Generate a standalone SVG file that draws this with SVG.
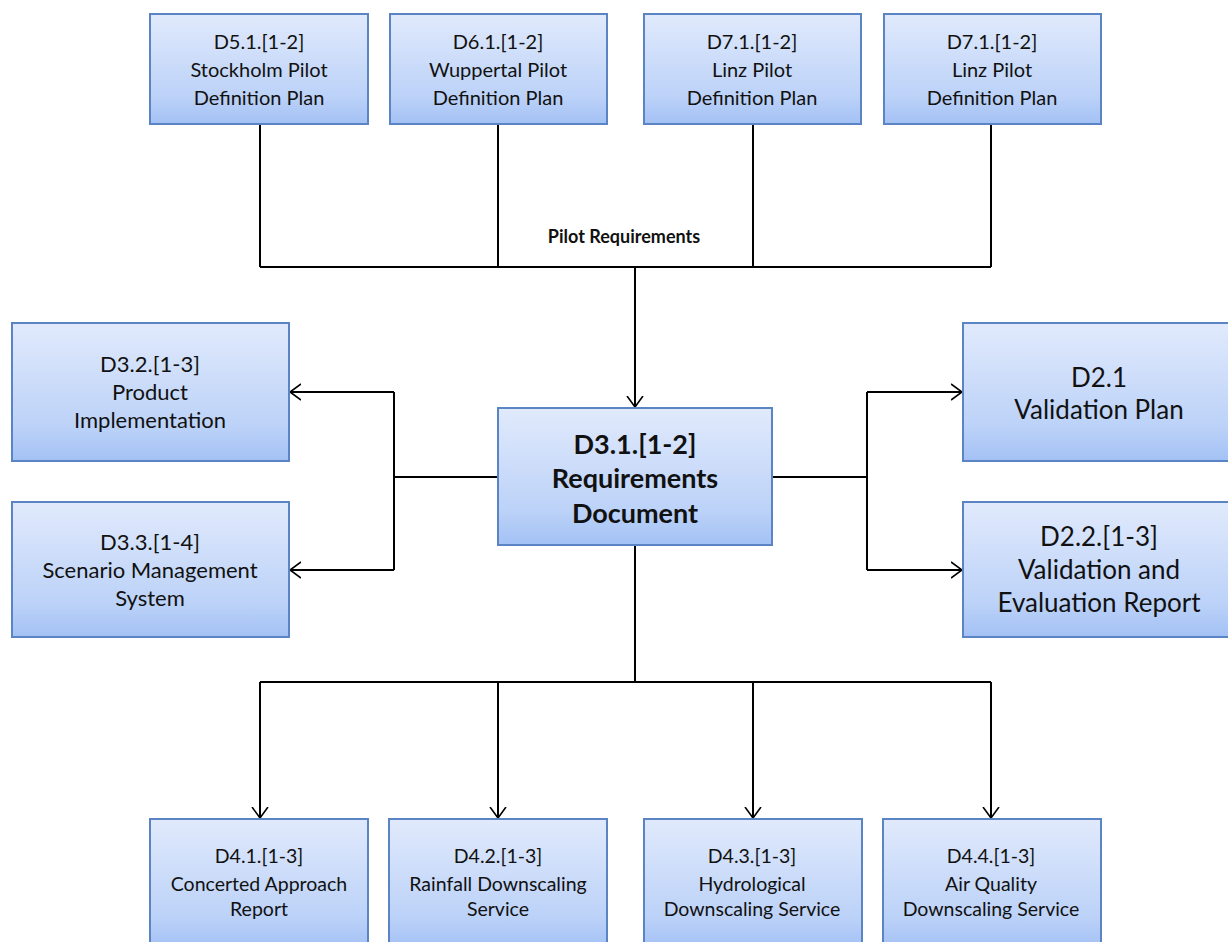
<svg xmlns="http://www.w3.org/2000/svg" width="1228" height="942" viewBox="0 0 1228 942">
<defs>
<linearGradient id="g" x1="0" y1="0" x2="0" y2="1">
<stop offset="0" stop-color="#e1eafc"/>
<stop offset="0.75" stop-color="#bcd2f8"/>
<stop offset="1" stop-color="#a3c1f5"/>
</linearGradient>
<marker id="arr" viewBox="0 0 12 18" refX="11" refY="9" markerWidth="12" markerHeight="18" markerUnits="userSpaceOnUse" orient="auto">
<path d="M0,1 L11,9 L0,17" fill="none" stroke="#000" stroke-width="1.6"/>
</marker>
<style>
.box{fill:url(#g);stroke:#5b84c4;stroke-width:2}
.t{font-family:Lato,"Open Sans","Liberation Sans",sans-serif;fill:#111;text-anchor:middle}
.s{font-size:20px}
.u{font-size:19.5px}
.m{font-size:22px}
.l{font-size:26px}
.b{font-size:27px;font-weight:bold}
.c{fill:none;stroke:#000;stroke-width:2}
</style>
</defs>
<g id="connectors">
<path class="c" d="M260,124 V267 M498,124 V267 M753,124 V267 M991,124 V267 M260,267 H991"/>
<path class="c" d="M635,267 V407" marker-end="url(#arr)"/>
<path class="c" d="M498,477 H394 M394,392 V570"/>
<path class="c" d="M394,392 H290" marker-end="url(#arr)"/>
<path class="c" d="M394,570 H290" marker-end="url(#arr)"/>
<path class="c" d="M772,477 H867 M867,392 V570"/>
<path class="c" d="M867,392 H962" marker-end="url(#arr)"/>
<path class="c" d="M867,570 H962" marker-end="url(#arr)"/>
<path class="c" d="M635,545 V682 M260,682 H991"/>
<path class="c" d="M260,682 V818" marker-end="url(#arr)"/>
<path class="c" d="M498,682 V818" marker-end="url(#arr)"/>
<path class="c" d="M753,682 V818" marker-end="url(#arr)"/>
<path class="c" d="M991,682 V818" marker-end="url(#arr)"/>
<text class="t" x="624" y="243" style="font-size:18px;font-weight:bold">Pilot Requirements</text>
</g>
<g id="d51"><rect class="box" x="150" y="14" width="218" height="110"/>
<text class="t s" x="259" y="49">D5.1.[1-2]</text><text class="t s" x="259" y="77">Stockholm Pilot</text><text class="t s" x="259" y="105">Definition Plan</text></g>
<g id="d61"><rect class="box" x="390" y="14" width="217" height="110"/>
<text class="t s" x="498" y="49">D6.1.[1-2]</text><text class="t s" x="498" y="77">Wuppertal Pilot</text><text class="t s" x="498" y="105">Definition Plan</text></g>
<g id="d71a"><rect class="box" x="644" y="14" width="217" height="110"/>
<text class="t s" x="752" y="49">D7.1.[1-2]</text><text class="t s" x="752" y="77">Linz Pilot</text><text class="t s" x="752" y="105">Definition Plan</text></g>
<g id="d71b"><rect class="box" x="884" y="14" width="217" height="110"/>
<text class="t s" x="992" y="49">D7.1.[1-2]</text><text class="t s" x="992" y="77">Linz Pilot</text><text class="t s" x="992" y="105">Definition Plan</text></g>
<g id="d31"><rect class="box" x="498" y="408" width="274" height="137"/>
<text class="t b" x="635" y="454">D3.1.[1-2]</text><text class="t b" x="635" y="488">Requirements</text><text class="t b" x="635" y="523">Document</text></g>
<g id="d32"><rect class="box" x="12" y="323" width="277" height="138"/>
<text class="t m" x="150" y="372">D3.2.[1-3]</text><text class="t m" x="150" y="400">Product</text><text class="t m" x="150" y="428">Implementation</text></g>
<g id="d33"><rect class="box" x="12" y="502" width="277" height="135"/>
<text class="t m" x="150" y="550">D3.3.[1-4]</text><text class="t m" x="150" y="578">Scenario Management</text><text class="t m" x="150" y="606">System</text></g>
<g id="d21"><rect class="box" x="963" y="323" width="270" height="138"/>
<text class="t l" x="1099" y="387">D2.1</text><text class="t l" x="1099" y="419">Validation Plan</text></g>
<g id="d22"><rect class="box" x="963" y="502" width="270" height="135"/>
<text class="t l" x="1099" y="546">D2.2.[1-3]</text><text class="t l" x="1099" y="579">Validation and</text><text class="t l" x="1099" y="612">Evaluation Report</text></g>
<g id="d41"><rect class="box" x="150" y="819" width="218" height="130"/>
<text class="t u" x="259" y="863">D4.1.[1-3]</text><text class="t u" x="259" y="891">Concerted Approach</text><text class="t u" x="259" y="916">Report</text></g>
<g id="d42"><rect class="box" x="389" y="819" width="218" height="130"/>
<text class="t u" x="498" y="863">D4.2.[1-3]</text><text class="t u" x="498" y="891">Rainfall Downscaling</text><text class="t u" x="498" y="916">Service</text></g>
<g id="d43"><rect class="box" x="644" y="819" width="218" height="130"/>
<text class="t u" x="752" y="863">D4.3.[1-3]</text><text class="t u" x="752" y="891">Hydrological</text><text class="t u" x="752" y="916">Downscaling Service</text></g>
<g id="d44"><rect class="box" x="883" y="819" width="218" height="130"/>
<text class="t u" x="991" y="863">D4.4.[1-3]</text><text class="t u" x="991" y="891">Air Quality</text><text class="t u" x="991" y="916">Downscaling Service</text></g>
</svg>
